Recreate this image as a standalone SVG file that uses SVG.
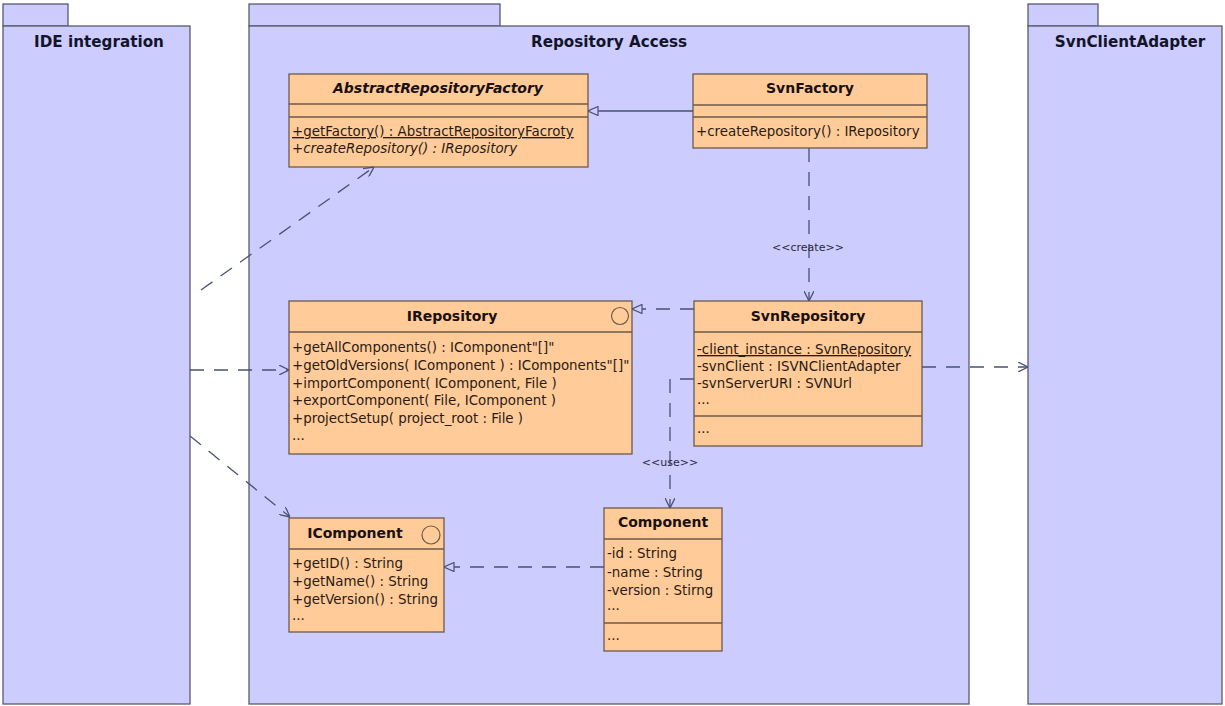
<svg xmlns="http://www.w3.org/2000/svg" width="1225" height="706" viewBox="0 0 1225 706">
<style>
.pkg{fill:#ccccff;stroke:#5a5a6e;stroke-width:1.3}
.ptitle{font-family:"DejaVu Sans",sans-serif;font-weight:bold;font-size:15.2px;fill:#141428;text-anchor:middle}
.cls{fill:#ffcc99;stroke:#6e5a48;stroke-width:1.3}
.sep{stroke:#6e5a48;stroke-width:1.3}
.ctitle{font-family:"DejaVu Sans",sans-serif;font-weight:bold;font-size:14px;fill:#1a1010;text-anchor:middle}
.mem{font-family:"DejaVu Sans",sans-serif;font-size:13.4px;fill:#2a1a14}
.lbl{font-family:"DejaVu Sans",sans-serif;font-size:11px;fill:#2a2a3a;text-anchor:middle}
.icon{fill:none;stroke:#6e5a48;stroke-width:1.2}
.solid{fill:none;stroke:#4a5272;stroke-width:1.3}
.dash{fill:none;stroke:#4a5272;stroke-width:1.3;stroke-dasharray:14 10}
</style>
<defs>
<marker id="open" viewBox="0 0 10 10" refX="10" refY="5" markerWidth="10" markerHeight="10" markerUnits="userSpaceOnUse" orient="auto">
<path d="M0,0 L10,5 L0,10" fill="none" stroke="#4a5272" stroke-width="1.3"/>
</marker>
<marker id="tri" viewBox="0 0 11 10" refX="10.5" refY="5" markerWidth="11" markerHeight="10" markerUnits="userSpaceOnUse" orient="auto">
<path d="M0.5,0.5 L10.5,5 L0.5,9.5 Z" fill="#ccccff" stroke="#4a5272" stroke-width="1.2"/>
</marker>
</defs>

<g id="pkg-ide">
<rect class="pkg" x="3" y="4" width="65" height="22"/>
<rect class="pkg" x="3" y="26" width="187" height="678"/>
<text class="ptitle" x="99" y="47">IDE integration</text>
</g>

<g id="pkg-repo">
<rect class="pkg" x="249" y="4" width="251" height="22"/>
<rect class="pkg" x="249" y="26" width="720" height="678"/>
<text class="ptitle" x="609" y="47">Repository Access</text>
</g>

<g id="pkg-svnclient">
<rect class="pkg" x="1028" y="4" width="70" height="22"/>
<rect class="pkg" x="1028" y="26" width="194" height="678"/>
<text class="ptitle" x="1130" y="47">SvnClientAdapter</text>
</g>

<g id="AbstractRepositoryFactory">
<rect class="cls" x="289" y="74" width="299" height="93"/>
<line class="sep" x1="289" y1="104" x2="588" y2="104"/>
<line class="sep" x1="289" y1="117" x2="588" y2="117"/>
<text class="ctitle" x="438" y="93" font-style="italic">AbstractRepositoryFactory</text>
<text class="mem" x="292" y="136" text-decoration="underline">+getFactory() : AbstractRepositoryFacroty</text>
<text class="mem" x="292" y="153" font-style="italic">+createRepository() : IRepository</text>
</g>

<g id="SvnFactory">
<rect class="cls" x="693" y="74" width="234" height="74"/>
<line class="sep" x1="693" y1="105" x2="927" y2="105"/>
<line class="sep" x1="693" y1="117" x2="927" y2="117"/>
<text class="ctitle" x="810" y="93">SvnFactory</text>
<text class="mem" x="696" y="136">+createRepository() : IRepository</text>
</g>

<g id="IRepository">
<rect class="cls" x="289" y="301" width="343" height="153"/>
<line class="sep" x1="289" y1="332" x2="632" y2="332"/>
<text class="ctitle" x="452" y="321">IRepository</text>
<circle class="icon" cx="620" cy="316" r="8.5"/>
<text class="mem" x="292" y="352">+getAllComponents() : IComponent"[]"</text>
<text class="mem" x="292" y="370">+getOldVersions( IComponent ) : IComponents"[]"</text>
<text class="mem" x="292" y="388">+importComponent( IComponent, File )</text>
<text class="mem" x="292" y="405">+exportComponent( File, IComponent )</text>
<text class="mem" x="292" y="423">+projectSetup( project_root : File )</text>
<text class="mem" x="292" y="440">...</text>
</g>

<g id="SvnRepository">
<rect class="cls" x="694" y="301" width="228" height="145"/>
<line class="sep" x1="694" y1="332" x2="922" y2="332"/>
<line class="sep" x1="694" y1="416" x2="922" y2="416"/>
<text class="ctitle" x="808" y="321">SvnRepository</text>
<text class="mem" x="697" y="354" text-decoration="underline">-client_instance : SvnRepository</text>
<text class="mem" x="697" y="371">-svnClient : ISVNClientAdapter</text>
<text class="mem" x="697" y="388">-svnServerURI : SVNUrl</text>
<text class="mem" x="697" y="404">...</text>
<text class="mem" x="697" y="433">...</text>
</g>

<g id="IComponent">
<rect class="cls" x="289" y="518" width="155" height="114"/>
<line class="sep" x1="289" y1="549" x2="444" y2="549"/>
<text class="ctitle" x="355" y="538">IComponent</text>
<circle class="icon" cx="431" cy="535" r="9"/>
<text class="mem" x="292" y="568">+getID() : String</text>
<text class="mem" x="292" y="586">+getName() : String</text>
<text class="mem" x="292" y="604">+getVersion() : String</text>
<text class="mem" x="292" y="620">...</text>
</g>

<g id="Component">
<rect class="cls" x="604" y="508" width="118" height="143"/>
<line class="sep" x1="604" y1="539" x2="722" y2="539"/>
<line class="sep" x1="604" y1="623" x2="722" y2="623"/>
<text class="ctitle" x="663" y="527">Component</text>
<text class="mem" x="607" y="558">-id : String</text>
<text class="mem" x="607" y="577">-name : String</text>
<text class="mem" x="607" y="595">-version : Stirng</text>
<text class="mem" x="607" y="610">...</text>
<text class="mem" x="607" y="640">...</text>
</g>

<g id="connectors">
<path class="solid" d="M693,111 H588" marker-end="url(#tri)"/>
<path class="dash" d="M809,148 V301" marker-end="url(#open)"/>
<text class="lbl" x="808" y="251">&lt;&lt;create&gt;&gt;</text>
<path class="dash" d="M694,309 H632" marker-end="url(#tri)"/>
<path class="dash" d="M922,367 H1028" marker-end="url(#open)"/>
<path class="dash" d="M694,379 H670 V508" marker-end="url(#open)"/>
<text class="lbl" x="670" y="466">&lt;&lt;use&gt;&gt;</text>
<path class="dash" d="M604,567 H444" marker-end="url(#tri)"/>
<path class="dash" d="M201,290 L374,167" marker-end="url(#open)"/>
<path class="dash" d="M190,370 H289" marker-end="url(#open)"/>
<path class="dash" d="M190,436 L290,517" marker-end="url(#open)"/>
</g>
</svg>
